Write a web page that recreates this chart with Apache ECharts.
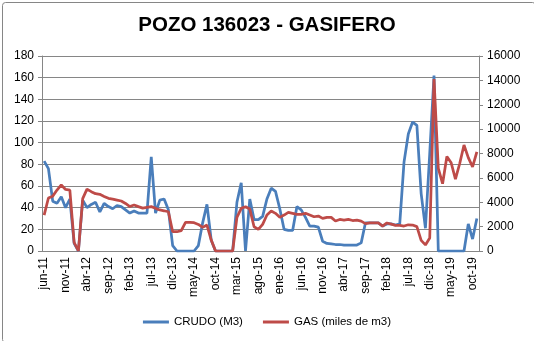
<!DOCTYPE html>
<html>
<head>
<meta charset="utf-8">
<script src="https://cdn.jsdelivr.net/npm/echarts@6/dist/echarts.min.js"></script>
<style>html,body{margin:0;padding:0;background:#fff}#c{width:534px;height:341px}</style>
</head>
<body>
<div id="c"></div>
<script>
var title = "POZO 136023 - GASIFERO";
var monthNames = ["ene","feb","mar","abr","may","jun","jul","ago","sep","oct","nov","dic"];
var startYear = 2011, startMonth = 5; // jun-11
var nPoints = 102;
var crudoName = "CRUDO (M3)";
var gasName = "GAS (miles de m3)";

var crudo = [83,76,46,44,50,40,48,7,0,47,
  40,43,45,36,44,41,39,42,41,38,
  35,37,35,35,35,87,35,47,48,38,
  5,0,0,0,0,0,5,26,43,10,
  0,0,0,0,0,45,63,0,48,29,
  29,32,48,58,55,39,20,19,19,41,
  38,31,23,23,22,9,7,6.5,6,6,
  5.5,5.5,5.5,5.5,7.5,26,26,26,26,23,
  25,25,24,25,82,108,119,116,53,21,
  90,162,0,0,0,0,0,0,0,25,
  11,30];

var gas = [2950,4350,4500,5000,5420,5050,5000,700,0,4300,
  5080,4870,4700,4650,4480,4320,4260,4180,4100,3900,
  3650,3780,3640,3520,3580,3640,3500,3370,3300,3220,
  1580,1580,1670,2350,2350,2320,2180,1940,2130,900,
  0,0,0,0,0,2760,3500,3630,3440,1990,
  1770,2190,2950,3280,3090,2760,2950,3170,3090,3000,
  3000,3090,2950,2810,2870,2680,2760,2760,2460,2590,
  2540,2590,2500,2530,2450,2250,2300,2300,2300,2050,
  2300,2200,2100,2100,2050,2150,2130,2000,870,500,
  1070,14100,6780,5520,7760,7240,5900,7180,8700,7660,
  6900,8140];

var categories = [];
for (var k = 0; k < nPoints; k++) {
  var m = (startMonth + k) % 12;
  var y = startYear + Math.floor((startMonth + k) / 12);
  categories.push(monthNames[m] + "-" + String(y).slice(2));
}

var font = "Liberation Sans";
var chart = echarts.init(document.getElementById('c'), null, {renderer: 'canvas'});
chart.setOption({
  animation: false,
  backgroundColor: '#fff',
  graphic: [{
    type: 'rect', left: 0, top: 0,
    shape: {x: 0.5, y: 0.5, width: 533, height: 340, r: 3},
    style: {fill: 'none', stroke: '#868686', lineWidth: 1}, silent: true, z: -1
  }],
  title: {
    text: title, left: 'center', top: 10,
    textStyle: {fontFamily: font, fontWeight: 'bold', fontSize: 20.5, color: '#000'}
  },
  legend: {
    bottom: 8, left: 'center', icon: 'rect', itemWidth: 26, itemHeight: 3, itemGap: 20,
    textStyle: {fontFamily: font, fontSize: 11.5, color: '#000'},
    data: [crudoName, gasName]
  },
  grid: {left: 42, right: 55, top: 56, bottom: 90, containLabel: false},
  xAxis: {
    type: 'category', data: categories, boundaryGap: true,
    axisLine: {lineStyle: {color: '#868686'}},
    axisTick: {interval: 4, length: 4, lineStyle: {color: '#868686'}},
    axisLabel: {interval: 4, rotate: 90, fontFamily: font, fontSize: 12, color: '#000', margin: 6}
  },
  yAxis: [{
    type: 'value', min: 0, max: 180, interval: 20,
    axisLine: {show: true, lineStyle: {color: '#868686'}},
    axisTick: {show: true, length: 4, lineStyle: {color: '#868686'}},
    splitLine: {lineStyle: {color: '#868686', width: 1}},
    axisLabel: {fontFamily: font, fontSize: 12, color: '#000', margin: 8}
  }, {
    type: 'value', min: 0, max: 16000, interval: 2000, position: 'right',
    axisLine: {show: true, lineStyle: {color: '#868686'}},
    axisTick: {show: true, length: 4, lineStyle: {color: '#868686'}},
    splitLine: {show: false},
    axisLabel: {fontFamily: font, fontSize: 12, color: '#000', margin: 8,
      formatter: function (v) { return String(v); }}
  }],
  series: [{
    name: crudoName, type: 'line', yAxisIndex: 0, data: crudo,
    symbol: 'none', lineStyle: {color: '#4A7EBB', width: 2.75}, itemStyle: {color: '#4A7EBB'}
  }, {
    name: gasName, type: 'line', yAxisIndex: 1, data: gas,
    symbol: 'none', lineStyle: {color: '#BE4B48', width: 2.75}, itemStyle: {color: '#BE4B48'}
  }]
});
</script>
</body>
</html>
